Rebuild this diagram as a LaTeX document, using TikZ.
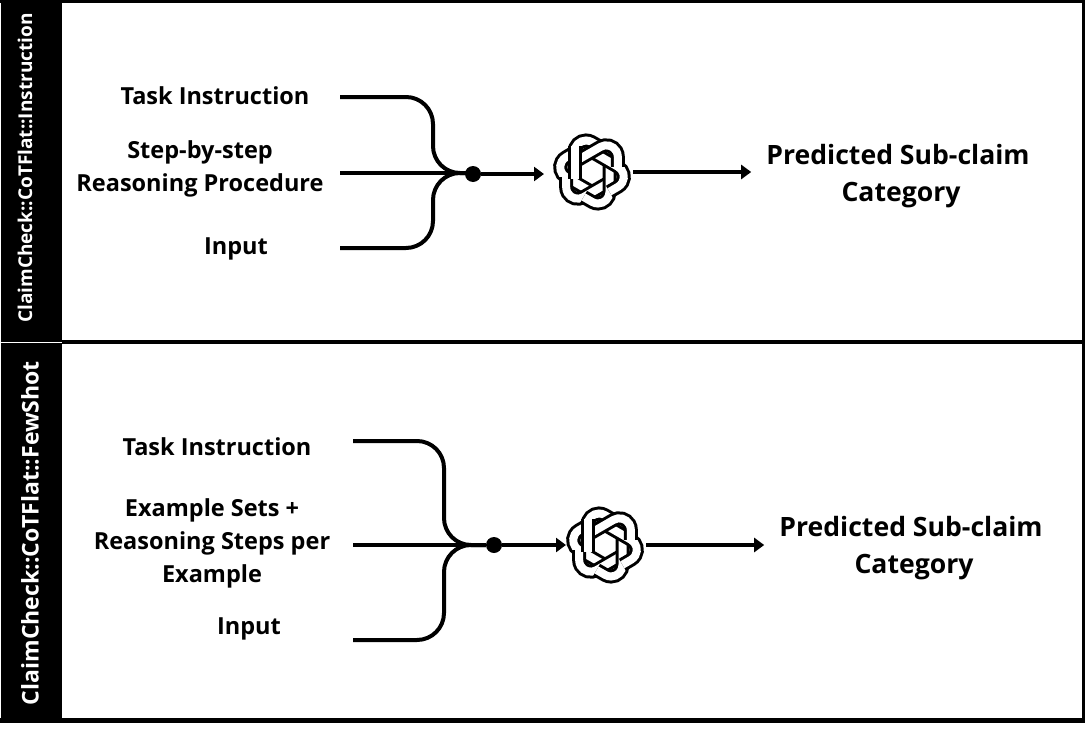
\documentclass[tikz,border=0pt]{standalone}
\usepackage{fontspec}
\setmainfont{Open Sans}
\usetikzlibrary{arrows.meta}
\tikzset{
	wire/.style={line width=4pt, rounded corners=27pt},
	flow/.style={line width=4pt, -{Triangle[length=10pt, width=14pt]}},
	inlabel/.style={font=\fontsize{23.5}{33}\selectfont\bfseries, align=center, inner sep=0pt},
	outlabel/.style={font=\fontsize{26.6}{37}\selectfont\bfseries, align=center, inner sep=0pt},
	sidelabel/.style={text=white, rotate=90, font=\bfseries, inner sep=0pt},
	joint/.style={circle, fill=black, minimum size=16pt, inner sep=0pt},
	logobox/.style={circle, minimum size=82pt, inner sep=0pt},
	band/.style={line join=miter, line width=14pt, black, postaction={draw, white, line width=8pt}},
	knot/.pic={
		\foreach \k in {0,60,...,300} {
			\draw[band, rotate=\k] (-17.5,7) -- (-17.5,-20) arc (180:300:11.5) -- (8.4,-25);
		}
		% the first band goes over the last one
		\draw[band] (-17.5,7) -- (-17.5,-26);
	}
}
\begin{document}
\begin{tikzpicture}[x=1pt, y=-1pt]
	\useasboundingbox (0, 0) rectangle (1087, 744);

	% frame
	\fill[black] (0, 0) rectangle (1085, 3);
	\fill[black] (1082, 0) rectangle (1085, 723);
	\fill[black] (0, 718) rectangle (1085, 723);
	\fill[black] (62, 340) rectangle (1085, 344);
	\fill[black] (1, 0) rectangle (62, 723);
	\draw[white, line width=1.5pt] (1, 342.5) -- (62, 342.5);
	\node[sidelabel, font=\fontsize{19}{19}\selectfont\bfseries] (sideA) at (25, 168) {ClaimCheck::CoTFlat::Instruction};
	\node[sidelabel, font=\fontsize{23}{23}\selectfont\bfseries] (sideB) at (30, 533) {ClaimCheck::CoTFlat::FewShot};

	% upper part
	\node[inlabel] (taskA) at (215, 96) {Task Instruction};
	\node[inlabel] (stepA) at (200, 169) {Step-by-step\\Reasoning Procedure};
	\node[inlabel] (inputA) at (236, 249) {Input};
	\coordinate (startA) at (340, 97);
	\coordinate (midA) at (340, 173);
	\coordinate (endA) at (340, 248);
	\coordinate (hubA) at (470, 173);
	\node[joint] (dotA) at (473, 174) {};
	\node[logobox] (logoA) at (592, 172) {};
	\node[outlabel] (predA) at (898, 176) {Predicted Sub-claim\\\hspace*{6pt}Category};
	\draw[wire] (startA) -- (433, 97) -- (433, 173) -- (hubA);
	\draw[wire] (endA) -- (433, 248) -- (433, 173) -- (hubA);
	\draw[wire] (midA) -- (hubA);
	\draw[flow] (dotA) -- (544, 174);
	\pic at (logoA) {knot};
	\draw[flow] (logoA.east) -- ([xshift=-15pt]predA.west |- logoA);

	% lower part
	\node[inlabel] (taskB) at (217, 447) {Task Instruction};
	\node[inlabel] (stepB) at (212, 543) {Example Sets +\\Reasoning Steps per\\Example};
	\node[inlabel] (inputB) at (249, 629) {Input};
	\coordinate (startB) at (353, 441);
	\coordinate (midB) at (353, 545);
	\coordinate (endB) at (353, 640);
	\node[joint] (dotB) at (494, 545) {};
	\node[logobox] (logoB) at (605, 545) {};
	\node[outlabel] (predB) at (911, 548) {Predicted Sub-claim\\\hspace*{6pt}Category};
	\draw[wire] (startB) -- (444, 441) -- (444, 545) -- (dotB.west);
	\draw[wire] (endB) -- (444, 640) -- (444, 545) -- (dotB.west);
	\draw[wire] (midB) -- (dotB.west);
	\draw[flow] (dotB) -- (566, 545);
	\pic at (logoB) {knot};
	\draw[flow] (logoB.east) -- ([xshift=-15pt]predB.west |- logoB);
\end{tikzpicture}
\end{document}
